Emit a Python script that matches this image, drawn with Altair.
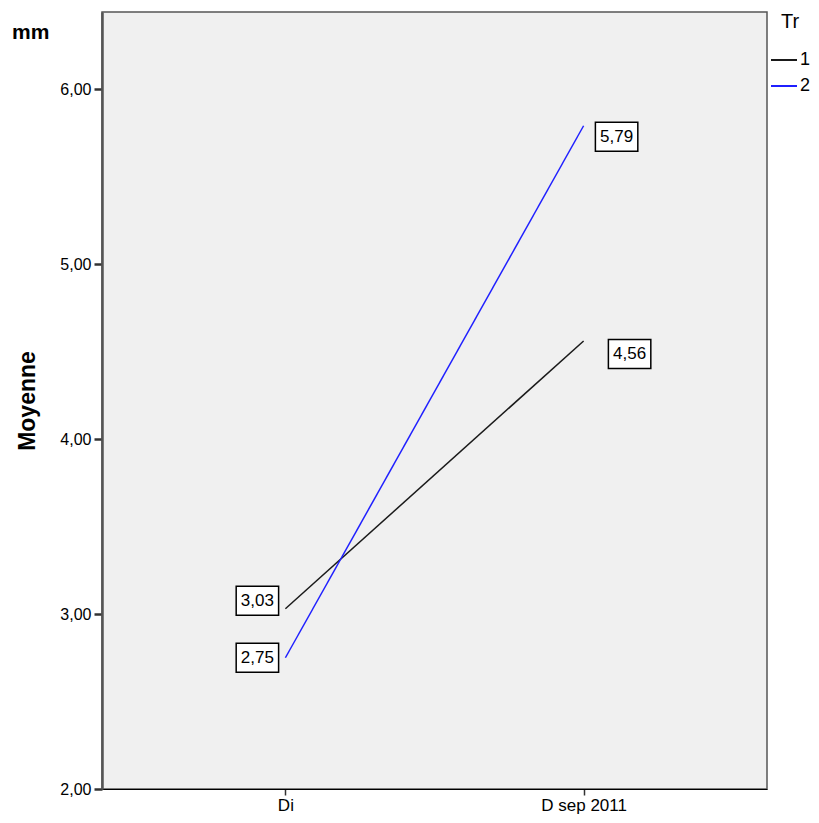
import altair as alt
import pandas as pd

conditions = ["Di", "D sep 2011"]
series_names = ["1", "2"]
tr1_values = [3.03, 4.56]
tr2_values = [2.75, 5.79]
y_ticks = [2, 3, 4, 5, 6]

rows = []
for name, vals in zip(series_names, [tr1_values, tr2_values]):
    for c, v in zip(conditions, vals):
        rows.append({"cond": c, "Tr": name, "val": v,
                     "lab": f"{v:.2f}".replace(".", ",")})
df = pd.DataFrame(rows)

font = "Liberation Sans"
xs = alt.X("cond:N", sort=conditions,
           scale=alt.Scale(type="point", padding=0.615),
           axis=alt.Axis(title=None, labelAngle=0, labelFont=font, labelFontSize=17,
                         labelColor="#000", tickSize=6, tickWidth=1.5, tickColor="#333",
                         domainColor="#000", domainWidth=1, labelPadding=2))
ys = alt.Y("val:Q", scale=alt.Scale(domain=[2, 6.44], nice=False, zero=False),
           axis=alt.Axis(title="Moyenne", values=y_ticks,
                         labelExpr="replace(format(datum.value, '.2f'), '.', ',')",
                         labelFont=font, labelFontSize=16, labelColor="#000",
                         tickSize=8, tickWidth=2.5, tickColor="#333",
                         domainColor="#555", domainWidth=2.5, grid=False,
                         titleFont=font, titleFontSize=23, titleFontWeight="bold",
                         titleColor="#000", titlePadding=20, labelPadding=3))

color = alt.Color("Tr:N", scale=alt.Scale(domain=series_names, range=["#1a1a1a", "#1f1fff"]),
                  legend=alt.Legend(title="Tr", symbolType="stroke", symbolSize=676,
                                    symbolStrokeWidth=2, labelFont=font, labelFontSize=18,
                                    titleFont=font, titleFontSize=20, titleFontWeight="normal",
                                    labelColor="#000", titleColor="#000",
                                    offset=3, padding=0, titleAnchor="middle",
                                    titlePadding=14, rowPadding=3, labelOffset=2))

base = alt.Chart(df).transform_calculate(
    dx="datum.cond == 'Di' ? -28 : (datum.Tr == '1' ? 46 : 33)",
    dy="datum.cond == 'Di' ? (datum.Tr == '1' ? -8 : 0) : (datum.Tr == '1' ? 13 : 11)",
)
lines = alt.Chart(df).mark_line(strokeWidth=1.5).encode(x=xs, y=ys, color=color, detail="Tr:N")

box_path = "M-1,-0.68L1,-0.68L1,0.68L-1,0.68Z"
xo_expr = alt.ExprRef("datum.dx")
yo_expr = alt.ExprRef("datum.dy")

boxes = base.mark_point(shape=box_path, size=1800, filled=True, fill="white",
                        stroke="black", strokeWidth=1.5, opacity=1,
                        xOffset=xo_expr, yOffset=yo_expr
                        ).encode(x=xs, y=ys)
texts = base.mark_text(font=font, fontSize=17, color="#000", baseline="middle",
                       xOffset=xo_expr, yOffset=yo_expr
                       ).encode(x=xs, y=ys, text="lab:N")

mm = alt.Chart(pd.DataFrame({"t": ["mm"]})).mark_text(
    font=font, fontSize=21, fontWeight="bold", color="#000", align="left", baseline="middle"
).encode(x=alt.value(-90), y=alt.value(21), text="t:N")

chart = alt.layer(lines, boxes, texts, mm).properties(
    width=665, height=777,
    padding={"left": 94, "top": 4, "right": 44, "bottom": 26},
    autosize=alt.AutoSizeParams(type="none"),
    background="white",
).configure_view(fill="#f0f0f0", stroke="#555", strokeWidth=1.5)

chart.save("out.html", embed_options={"renderer": "svg", "actions": False})
